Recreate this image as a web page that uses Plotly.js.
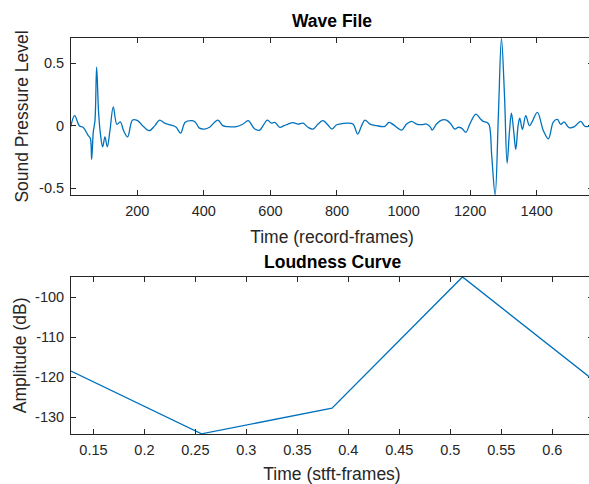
<!DOCTYPE html>
<html>
<head>
<meta charset="utf-8">
<script src="https://cdn.plot.ly/plotly-3.0.1.min.js"></script>
<style>html,body{margin:0;padding:0;overflow:hidden;background:#fff}#chart{width:594px;height:484px}</style>
</head>
<body>
<div id="chart"></div>
<script>
// Wave File (record-frames vs sound pressure level)
var waveFrames = [0,12,26,38,53,59,63,68,73,78,84,90,96,103,110,118,128,139,149,159,171,186,201,216,236,253,267,282,302,317,330,344,362,374,387,402,417,442,457,472,498,518,533,553,568,578,591,603,613,628,641,653,668,683,698,713,728,743,758,773,785,798,808,829,848,862,874,884,899,919,944,956,969,994,1009,1024,1039,1054,1069,1080,1086,1099,1114,1129,1142,1154,1164,1174,1187,1199,1217,1229,1239,1250,1257,1265,1275,1285,1294,1303,1311,1318,1324,1331,1337,1344,1349,1357,1367,1378,1386,1402,1420,1435,1450,1462,1472,1482,1497,1512,1532,1545,1569];
var waveLevel = [-0.01,0.08,0.0,-0.015,-0.08,-0.10,-0.27,-0.05,0.04,0.47,0.10,-0.08,-0.17,-0.09,-0.17,-0.04,0.15,0.01,0.03,-0.04,-0.09,0.045,0.04,0.0,-0.04,0.0,0.045,0.02,0.005,-0.013,-0.06,0.027,0.04,0.03,-0.02,-0.027,-0.013,0.045,0.0,-0.008,-0.008,0.013,0.04,-0.027,-0.035,0.0,0.045,0.02,0.027,-0.013,0.0,0.013,0.024,0.013,0.02,-0.013,-0.027,0.013,0.04,0.005,-0.027,0.005,0.013,0.02,0.013,-0.067,0.0,0.045,0.013,0.0,-0.005,0.027,0.008,-0.035,0.013,0.035,0.013,0.008,0.013,-0.01,-0.035,0.013,0.045,0.045,0.013,-0.027,-0.013,-0.02,-0.053,0.013,0.093,0.06,0.035,0.027,0.008,-0.25,-0.555,0.10,0.70,0.25,-0.30,-0.05,0.10,-0.05,-0.19,0.0,0.06,-0.03,0.08,0.0,0.03,0.107,-0.04,-0.105,0.03,0.05,0.01,0.03,-0.015,-0.01,0.035,-0.005,0.0];

// Loudness Curve
var loudTime = [0.128,0.256,0.384,0.512,0.640];
var loudAmp = [-118.4,-134.1,-127.7,-94.9,-120.6];

// Tick labels
var waveXTicks = [200,400,600,800,1000,1200,1400];
var waveXText = ['200','400','600','800','1000','1200','1400'];
var waveYTicks = [-0.5,0,0.5];
var waveYText = ['-0.5','0','0.5'];
var loudXTicks = [0.15,0.2,0.25,0.3,0.35,0.4,0.45,0.5,0.55,0.6];
var loudXText = ['0.15','0.2','0.25','0.3','0.35','0.4','0.45','0.5','0.55','0.6'];
var loudYTicks = [-130,-120,-110,-100];
var loudYText = ['-130','-120','-110','-100'];

var lineColor = '#0072BD';
var axColor = '#262626';
var fontFam = '"Liberation Sans", Arial, Helvetica, sans-serif';

var traces = [
  {x: waveFrames, y: waveLevel, type: 'scatter', mode: 'lines',
   line: {color: lineColor, width: 1.3, shape: 'spline', smoothing: 1.0},
   xaxis: 'x', yaxis: 'y', hoverinfo: 'x+y'},
  {x: loudTime, y: loudAmp, type: 'scatter', mode: 'lines',
   line: {color: lineColor, width: 1.3},
   xaxis: 'x2', yaxis: 'y2', hoverinfo: 'x+y'}
];

function axBase() {
  return {
    showline: true, linecolor: axColor, linewidth: 1, mirror: 'ticks',
    ticks: 'inside', ticklen: 5, tickwidth: 1, tickcolor: axColor,
    showgrid: false, zeroline: false,
    tickfont: {family: fontFam, size: 14.5, color: axColor},
    tickmode: 'array', automargin: false, ticklabelstandoff: 3
  };
}

var xa = axBase();
Object.assign(xa, {domain: [0,1], anchor: 'y', range: [1,1569], tickvals: waveXTicks, ticktext: waveXText,
  title: {text: 'Time (record-frames)', font: {family: fontFam, size: 17.5, color: axColor}, standoff: 12}});
var ya = axBase();
Object.assign(ya, {domain: [0.6035,1], anchor: 'x', range: [-0.556,0.703], tickvals: waveYTicks, ticktext: waveYText,
  title: {text: 'Sound Pressure Level', font: {family: fontFam, size: 17.5, color: axColor}, standoff: 5}});
var xa2 = axBase();
Object.assign(xa2, {domain: [0,1], anchor: 'y2', range: [0.128,0.64], tickvals: loudXTicks, ticktext: loudXText,
  title: {text: 'Time (stft-frames)', font: {family: fontFam, size: 17.5, color: axColor}, standoff: 13}});
var ya2 = axBase();
Object.assign(ya2, {domain: [0,0.397], anchor: 'x2', range: [-134.15,-94.85], tickvals: loudYTicks, ticktext: loudYText,
  title: {text: 'Amplitude (dB)', font: {family: fontFam, size: 17.5, color: axColor}, standoff: 3}});

var layout = {
  width: 594, height: 484,
  margin: {l: 71, r: 1, t: 38, b: 50},
  paper_bgcolor: '#ffffff', plot_bgcolor: '#ffffff',
  showlegend: false,
  xaxis: xa, yaxis: ya, xaxis2: xa2, yaxis2: ya2,
  annotations: [
    {text: '<b>Wave File</b>', xref: 'paper', yref: 'paper', x: 0.5, y: 1.0417, xanchor: 'center', yanchor: 'middle',
     showarrow: false, font: {family: fontFam, size: 17.5, color: '#000000'}},
    {text: '<b>Loudness Curve</b>', xref: 'paper', yref: 'paper', x: 0.5, y: 0.4331, xanchor: 'center', yanchor: 'middle',
     showarrow: false, font: {family: fontFam, size: 17.5, color: '#000000'}}
  ]
};

Plotly.newPlot('chart', traces, layout, {displayModeBar: false, staticPlot: true});
</script>
</body>
</html>
